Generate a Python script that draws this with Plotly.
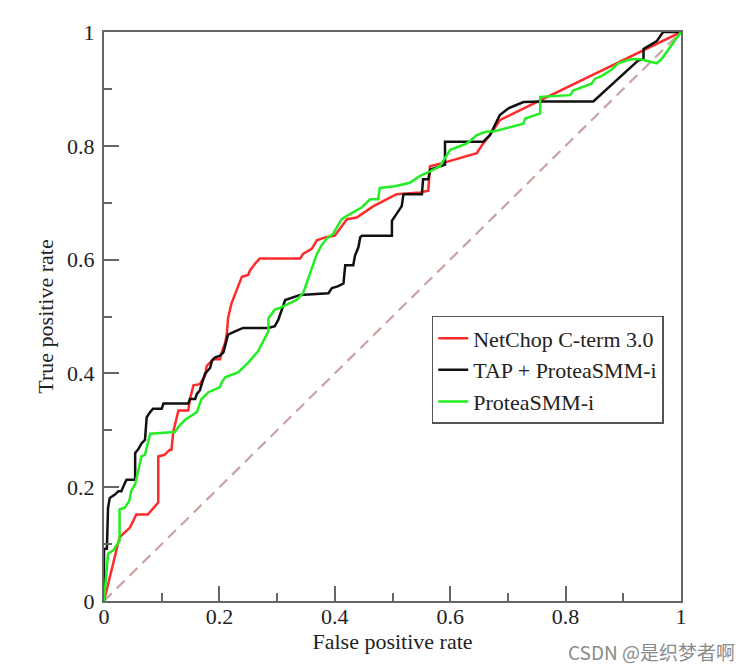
import plotly.graph_objects as go

# ---- data ----
tap_x = [0, 0, 0.005, 0.007, 0.010, 0.019, 0.025, 0.030, 0.036, 0.039, 0.054, 0.054, 0.059, 0.065, 0.071,
         0.074, 0.080, 0.085, 0.100, 0.103, 0.146, 0.149, 0.158, 0.161, 0.166, 0.169, 0.175, 0.184, 0.187,
         0.192, 0.201, 0.207, 0.210, 0.215, 0.227, 0.241, 0.285, 0.296, 0.302, 0.308, 0.314, 0.340, 0.389,
         0.395, 0.405, 0.415, 0.418, 0.432, 0.435, 0.441, 0.444, 0.447, 0.499, 0.499, 0.505, 0.516, 0.519,
         0.551, 0.553, 0.562, 0.565, 0.582, 0.591, 0.591, 0.657, 0.669, 0.681, 0.686, 0.701, 0.727, 0.759,
         0.848, 0.926, 0.935, 0.935, 0.958, 0.969, 0.992, 1.0]
tap_y = [0, 0.092, 0.092, 0.164, 0.181, 0.187, 0.193, 0.193, 0.207, 0.213, 0.213, 0.260, 0.266, 0.277, 0.283,
         0.323, 0.332, 0.338, 0.338, 0.347, 0.347, 0.355, 0.355, 0.364, 0.370, 0.379, 0.399, 0.410, 0.422,
         0.428, 0.431, 0.437, 0.448, 0.468, 0.474, 0.480, 0.480, 0.483, 0.494, 0.512, 0.529, 0.538, 0.541,
         0.550, 0.553, 0.558, 0.590, 0.590, 0.607, 0.622, 0.639, 0.642, 0.642, 0.668, 0.677, 0.694, 0.715,
         0.715, 0.741, 0.741, 0.758, 0.764, 0.767, 0.807, 0.807, 0.819, 0.842, 0.854, 0.866, 0.877, 0.878,
         0.878, 0.950, 0.952, 0.970, 0.984, 1.0, 1.0, 1.0]

netchop_x = [0, 0.027, 0.045, 0.056, 0.076, 0.085, 0.094, 0.094, 0.105, 0.114, 0.117, 0.120, 0.129, 0.146,
             0.149, 0.155, 0.166, 0.175, 0.178, 0.189, 0.201, 0.204, 0.210, 0.213, 0.215, 0.221, 0.230, 0.239,
             0.250, 0.253, 0.262, 0.270, 0.340, 0.345, 0.360, 0.369, 0.383, 0.400, 0.421, 0.438, 0.467, 0.507,
             0.548, 0.562, 0.565, 0.588, 0.646, 0.657, 0.669, 0.686, 0.756, 1.0]
netchop_y = [0, 0.112, 0.129, 0.152, 0.152, 0.162, 0.173, 0.254, 0.257, 0.266, 0.266, 0.297, 0.335, 0.335,
             0.355, 0.379, 0.381, 0.396, 0.413, 0.425, 0.425, 0.437, 0.454, 0.471, 0.497, 0.523, 0.547, 0.570,
             0.573, 0.581, 0.593, 0.602, 0.602, 0.610, 0.619, 0.634, 0.639, 0.642, 0.671, 0.674, 0.694, 0.715,
             0.718, 0.721, 0.764, 0.770, 0.787, 0.804, 0.819, 0.845, 0.880, 1.0]

protea_x = [0, 0.007, 0.016, 0.024, 0.027, 0.027, 0.036, 0.044, 0.047, 0.054, 0.059, 0.062, 0.065, 0.071,
            0.074, 0.080, 0.123, 0.129, 0.140, 0.161, 0.169, 0.181, 0.201, 0.204, 0.210, 0.227, 0.233, 0.250,
            0.267, 0.285, 0.285, 0.296, 0.305, 0.334, 0.345, 0.351, 0.357, 0.363, 0.369, 0.377, 0.386, 0.397,
            0.412, 0.421, 0.447, 0.461, 0.475, 0.478, 0.504, 0.530, 0.548, 0.565, 0.582, 0.600, 0.629, 0.646,
            0.663, 0.675, 0.727, 0.730, 0.756, 0.756, 0.808, 0.813, 0.831, 0.845, 0.851, 0.863, 0.880, 0.891,
            0.912, 0.929, 0.958, 0.966, 1.0]
protea_y = [0, 0.083, 0.089, 0.100, 0.106, 0.161, 0.164, 0.176, 0.193, 0.205, 0.228, 0.237, 0.254, 0.257,
            0.268, 0.294, 0.297, 0.306, 0.318, 0.332, 0.355, 0.367, 0.376, 0.384, 0.393, 0.399, 0.402, 0.419,
            0.439, 0.474, 0.497, 0.512, 0.515, 0.529, 0.541, 0.558, 0.576, 0.593, 0.610, 0.625, 0.637, 0.645,
            0.671, 0.677, 0.692, 0.706, 0.706, 0.726, 0.729, 0.735, 0.747, 0.755, 0.764, 0.793, 0.804, 0.819,
            0.825, 0.825, 0.839, 0.848, 0.857, 0.886, 0.889, 0.897, 0.903, 0.909, 0.918, 0.923, 0.934, 0.945,
            0.952, 0.952, 0.945, 0.952, 1.0]

diag_x = [0, 1]
diag_y = [0, 1]

tick_vals = [0, 0.2, 0.4, 0.6, 0.8, 1.0]
tick_text = ["0", "0.2", "0.4", "0.6", "0.8", "1"]

SERIF = "Liberation Serif, Times New Roman, serif"
AXC = "#666666"

fig = go.Figure()
fig.add_trace(go.Scatter(x=diag_x, y=diag_y, mode="lines", showlegend=False, hoverinfo="skip",
                         line=dict(color="#c9a3a3", width=2.2, dash="11px,7px")))
fig.add_trace(go.Scatter(x=netchop_x, y=netchop_y, mode="lines", name="NetChop C-term 3.0",
                         line=dict(color="#ff2a2a", width=2.5)))
fig.add_trace(go.Scatter(x=tap_x, y=tap_y, mode="lines", name="TAP + ProteaSMM-i",
                         line=dict(color="#111111", width=2.5)))
fig.add_trace(go.Scatter(x=protea_x, y=protea_y, mode="lines", name="ProteaSMM-i",
                         line=dict(color="#22ee22", width=2.5)))

axis_common = dict(range=[0, 1], tickvals=tick_vals, ticktext=tick_text, ticks="inside", ticklen=15,
                   tickwidth=2, tickcolor=AXC, showline=True, linecolor=AXC, linewidth=2, mirror=True,
                   showgrid=False, zeroline=False,
                   minor=dict(ticks="inside", ticklen=8, tickwidth=2, tickcolor=AXC, dtick=0.1, showgrid=False),
                   tickfont=dict(family=SERIF, size=22, color="#222222"))

# page body has an 8px margin, so the figure is sized to fill the remaining window
fig.update_layout(
    width=745, height=663,
    margin=dict(l=96, r=72, t=18, b=70),
    plot_bgcolor="white", paper_bgcolor="white",
    xaxis=dict(**axis_common, ticklabelstandoff=-5,
               title=dict(text="False positive rate", standoff=2,
                          font=dict(family=SERIF, size=22, color="#222222"))),
    yaxis=dict(**axis_common, ticklabelstandoff=3,
               title=dict(text="True positive rate", standoff=7,
                          font=dict(family=SERIF, size=22, color="#222222"))),
    legend=dict(x=0.568, y=0.501, xanchor="left", yanchor="top", bgcolor="white",
                bordercolor="#555555", borderwidth=1.5, itemwidth=30,
                entrywidth=255, entrywidthmode="pixels",
                font=dict(family=SERIF, size=22, color="#222222")),
    annotations=[dict(text="CSDN @是织梦者啊", xref="paper", yref="paper", x=1.097, y=-0.0887,
                      xanchor="right", yanchor="middle", showarrow=False,
                      font=dict(family="Noto Sans CJK SC", size=19, color="#8a8a8a"))],
)

fig.write_html("out.html")
